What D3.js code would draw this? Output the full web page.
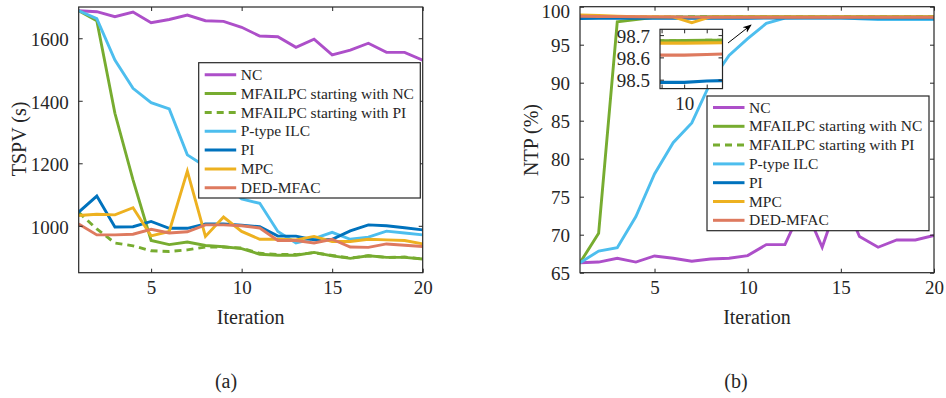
<!DOCTYPE html>
<html><head><meta charset="utf-8">
<script src="https://cdn.jsdelivr.net/npm/d3@7"></script>
<style>
body{margin:0;background:#fff}
svg{display:block}
text{font-family:"Liberation Serif","Times New Roman",serif;fill:#262626}
</style>
</head><body><svg id="c" width="946" height="398"></svg>
<script>
// ---------- data ----------
const iterations = [1,2,3,4,5,6,7,8,9,10,11,12,13,14,15,16,17,18,19,20];
const seriesNames = ["NC","MFAILPC starting with NC","MFAILPC starting with PI","P-type ILC","PI","MPC","DED-MFAC"];
const seriesColors = ["#AD4FC9","#77AC30","#77AC30","#4DBEEE","#0072BD","#EDB120","#DE7A5F"];
const seriesDash = [null,null,"7,5",null,null,null,null];

// TSPV (s)
const tspvNC      = [1688,1685,1669,1684,1650,1660,1674,1656,1654,1635,1607,1605,1571,1597,1547,1562,1584,1555,1555,1530];
const tspvMfaNC   = [1688,1656,1360,1147,953,940,948,937,933,927,909,906,906,915,904,896,904,899,899,894];
const tspvMfaPI   = [1043,990,945,936,920,918,923,932,932,929,912,908,908,914,905,897,904,899,900,894];
const tspvPILC    = [1688,1663,1530,1440,1394,1374,1227,1190,1135,1086,1072,982,945,959,979,957,964,983,977,971];
const tspvPI      = [1044,1095,996,997,1014,992,992,1006,1006,1002,997,967,967,955,957,984,1003,1000,994,987];
const tspvMPC     = [1033,1037,1035,1058,968,982,1175,966,1028,982,957,957,955,966,950,950,957,955,953,942];
const tspvDED     = [1006,971,971,973,989,977,981,1003,1003,1000,993,953,953,945,957,932,931,942,938,934];

// NTP (%)
const ntpNC       = [66.3,66.4,66.9,66.4,67.2,66.9,66.5,66.8,66.9,67.25,68.7,68.7,74.0,68.35,75.5,69.75,68.35,69.3,69.3,69.9];
const ntpMfaNC    = [66.3,70.2,98.0,98.3,98.6,98.64,98.66,98.67,98.674,98.675,98.676,98.677,98.68,98.68,98.68,98.68,98.68,98.68,98.68,98.68];
const ntpMfaPI    = [98.55,98.6,98.62,98.64,98.65,98.66,98.67,98.672,98.674,98.675,98.676,98.677,98.68,98.68,98.68,98.68,98.68,98.68,98.68,98.68];
const ntpPILC     = [66.3,67.85,68.3,72.4,78.0,82.1,84.7,90.0,93.6,95.8,97.8,98.5,98.55,98.55,98.55,98.4,98.3,98.3,98.3,98.3];
const ntpPI       = [98.45,98.46,98.47,98.48,98.48,98.485,98.487,98.488,98.488,98.488,98.494,98.497,98.5,98.5,98.5,98.5,98.5,98.5,98.5,98.5];
const ntpMPC      = [98.9,98.85,98.75,98.7,98.68,98.66,97.9,98.66,98.664,98.664,98.665,98.666,98.667,98.667,98.667,98.667,98.667,98.667,98.667,98.667];
const ntpDED      = [98.75,98.72,98.7,98.68,98.66,98.64,98.63,98.62,98.61,98.61,98.613,98.616,98.62,98.62,98.62,98.62,98.62,98.62,98.62,98.62];

const tspvTicks = [1000,1200,1400,1600];
const ntpTicks = [65,70,75,80,85,90,95,100];
const iterTicks = [5,10,15,20];
const insetTicksY = [98.5,98.6,98.7];
const insetTicksX = [9,10,11];
const insetTickLabelsX = ["","10",""];

const tspvSeries = [tspvNC,tspvMfaNC,tspvMfaPI,tspvPILC,tspvPI,tspvMPC,tspvDED];
const ntpSeries  = [ntpNC,ntpMfaNC,ntpMfaPI,ntpPILC,ntpPI,ntpMPC,ntpDED];

// ---------- drawing ----------
const svg = d3.select("#c");
const AX = "#262626";
const TICKFS = "19px";

function drawAxesBox(g, x, y, xTicks, yTicks, xLabels, yFmt, fs){
  const [x0,x1] = x.range(), [y0,y1] = y.range();
  const tl = 4;
  const bottom = d3.axisBottom(x).tickValues(xTicks).tickSizeInner(-tl).tickSizeOuter(0).tickPadding(10)
    .tickFormat((d,i)=> xLabels ? xLabels[i] : d);
  const top = d3.axisTop(x).tickValues(xTicks).tickSizeInner(-tl).tickSizeOuter(0).tickFormat("");
  const left = d3.axisLeft(y).tickValues(yTicks).tickSizeInner(-tl).tickSizeOuter(0).tickPadding(10).tickFormat(yFmt);
  const right = d3.axisRight(y).tickValues(yTicks).tickSizeInner(-tl).tickSizeOuter(0).tickFormat("");
  const gb = g.append("g").attr("transform",`translate(0,${y0})`).call(bottom);
  const gt = g.append("g").attr("transform",`translate(0,${y1})`).call(top);
  const gl = g.append("g").attr("transform",`translate(${x0},0)`).call(left);
  const gr = g.append("g").attr("transform",`translate(${x1},0)`).call(right);
  [gb,gt,gl,gr].forEach(a=>{
    a.select(".domain").remove();
    a.selectAll("line").attr("stroke",AX).attr("stroke-width",1);
    a.selectAll("text").attr("font-size",fs||TICKFS).attr("font-family",'"Liberation Serif",serif').attr("fill",AX);
  });
  gl.selectAll("text").attr("dy","0.38em");
  gb.selectAll("text").attr("dy","0.71em").attr("y",8);
  g.append("rect").attr("x",x0).attr("y",y1).attr("width",x1-x0).attr("height",y0-y1)
    .attr("fill","none").attr("stroke",AX).attr("stroke-width",1.2);
  return gl;
}

function drawLines(g, x, y, seriesList, clipId, sw){
  const line = d3.line().x((d,i)=>x(iterations[i])).y(d=>y(d));
  const lg = g.append("g").attr("clip-path",`url(#${clipId})`);
  seriesList.forEach((s,k)=>{
    lg.append("path").datum(s).attr("d",line).attr("fill","none")
      .attr("stroke",seriesColors[k]).attr("stroke-width",sw||2.9)
      .attr("stroke-linejoin","miter").attr("stroke-dasharray",seriesDash[k]);
  });
}

function addClip(id, x, y){
  const [x0,x1]=x.range(),[y0,y1]=y.range();
  svg.append("defs").append("clipPath").attr("id",id).append("rect")
    .attr("x",x0).attr("y",y1).attr("width",x1-x0).attr("height",y0-y1);
}

function drawLegend(g, bx, by, bw, bh, rowTop, step){
  g.append("rect").attr("x",bx).attr("y",by).attr("width",bw).attr("height",bh)
    .attr("fill","#fff").attr("stroke",AX).attr("stroke-width",1.2);
  seriesNames.forEach((n,k)=>{
    const cy = rowTop + k*step;
    g.append("line").attr("x1",bx+6).attr("x2",bx+37.5).attr("y1",cy).attr("y2",cy)
      .attr("stroke",seriesColors[k]).attr("stroke-width",3).attr("stroke-dasharray",seriesDash[k]);
    g.append("text").attr("x",bx+42).attr("y",cy).attr("dy","0.33em")
      .attr("font-size","15.5px").text(n);
  });
}

// ---- panel (a) ----
const xa = d3.scaleLinear().domain([1,20]).range([78.7,422.7]);
const ya = d3.scaleLinear().domain([850,1700]).range([272.7,7]);
addClip("clipA", xa, ya);
const ga = svg.append("g");
drawLines(ga, xa, ya, tspvSeries, "clipA");
drawAxesBox(ga, xa, ya, iterTicks, tspvTicks, null, d3.format("d"));
drawLegend(ga, 198.7, 62.7, 221.6, 135.3, 74.7, 18.85);
ga.append("text").attr("transform","translate(25.5,139) rotate(-90)").attr("text-anchor","middle")
  .attr("font-size","20px").text("TSPV (s)");
ga.append("text").attr("x",(78.7+422.7)/2).attr("y",324).attr("text-anchor","middle")
  .attr("font-size","20px").text("Iteration");
ga.append("text").attr("x",226).attr("y",388).attr("text-anchor","middle")
  .attr("font-size","20px").text("(a)");

// ---- panel (b) ----
const xb = d3.scaleLinear().domain([1,20]).range([580,934]);
const yb = d3.scaleLinear().domain([65,100]).range([272.7,6.7]);
addClip("clipB", xb, yb);
const gbp = svg.append("g");
drawLines(gbp, xb, yb, ntpSeries, "clipB");
const glb = drawAxesBox(gbp, xb, yb, iterTicks, ntpTicks, null, d3.format("d"));
// keep the top label fully inside the picture
glb.selectAll(".tick text").filter(d => d === 100).attr("dy", 10.6);
drawLegend(gbp, 707, 96, 222, 134.7, 107.5, 18.8);
gbp.append("text").attr("transform","translate(538,140) rotate(-90)").attr("text-anchor","middle")
  .attr("font-size","20px").text("NTP (%)");
gbp.append("text").attr("x",(580+934)/2).attr("y",324).attr("text-anchor","middle")
  .attr("font-size","20px").text("Iteration");
gbp.append("text").attr("x",736).attr("y",388).attr("text-anchor","middle")
  .attr("font-size","20px").text("(b)");

// ---- inset ----
const xi = d3.scaleLinear().domain([8.93,11.7]).range([660,722.5]);
const yi = d3.scaleLinear().domain([98.46,98.726]).range([88.6,29.3]);
const gi = svg.append("g");
gi.append("rect").attr("x",660).attr("y",29.3).attr("width",62.5).attr("height",59.3).attr("fill","#fff");
addClip("clipI", xi, yi);
drawLines(gi, xi, yi, ntpSeries, "clipI", 3.2);
drawAxesBox(gi, xi, yi, insetTicksX, insetTicksY, insetTickLabelsX, d3.format(".1f"));

// arrow
const defs = svg.append("defs");
defs.append("marker").attr("id","arr").attr("viewBox","0 0 10 10").attr("refX",9).attr("refY",5)
  .attr("markerWidth",9).attr("markerHeight",9).attr("orient","auto-start-reverse")
  .append("path").attr("d","M0,1 L10,5 L0,9 L3,5 Z").attr("fill","#000");
svg.append("line").attr("x1",728).attr("y1",43).attr("x2",751).attr("y2",25)
  .attr("stroke","#000").attr("stroke-width",1).attr("marker-end","url(#arr)");
</script>
</body></html>
